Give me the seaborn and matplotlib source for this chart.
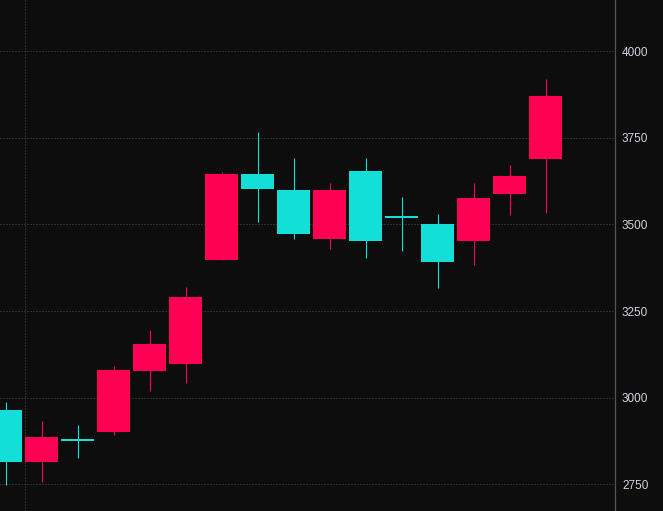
import matplotlib
matplotlib.use("Agg")
import matplotlib.pyplot as plt
import seaborn as sns
import numpy as np
import pandas as pd

# ---- data ----
opens  = [2965, 2814, 2879, 2901, 3077, 3097, 3398, 3646, 3600, 3458, 3654, 3523, 3501, 3452, 3588, 3689]
highs  = [2988, 2933, 2921, 3092, 3196, 3320, 3652, 3767, 3692, 3620, 3692, 3579, 3530, 3620, 3672, 3920]
lows   = [2748, 2757, 2826, 2892, 3019, 3042, 3398, 3507, 3458, 3429, 3403, 3424, 3317, 3383, 3527, 3533]
closes = [2814, 2886, 2877, 3080, 3155, 3291, 3646, 3602, 3473, 3600, 3452, 3521, 3392, 3577, 3640, 3871]
y_ticks = [2750, 3000, 3250, 3500, 3750, 4000]

UP = "#ff0055"
DOWN = "#12dfd8"
BG = "#0d0d0d"

sns.set_theme(style="dark")
plt.rcParams["font.family"] = ["Liberation Sans", "DejaVu Sans"]

df = pd.DataFrame({"open": opens, "high": highs, "low": lows, "close": closes})
df["idx"] = np.arange(len(df))
df["up"] = df["close"] >= df["open"]
df["color"] = np.where(df["up"], UP, DOWN)

fig = plt.figure(figsize=(6.63, 5.11), dpi=100, facecolor=BG)
ax = fig.add_axes([0, 0, 615 / 663, 1])
ax.set_facecolor(BG)

ax.set_xlim(-0.153, 16.93)
ax.set_ylim(2673, 4148)

# minimum body height (about 2 px) for doji candles
px = (4148 - 2673) / 511.0
body_bottom = np.minimum(df["open"], df["close"])
body_h = np.maximum(np.abs(df["close"] - df["open"]), 2 * px)
body_bottom = np.where(np.abs(df["close"] - df["open"]) < 2 * px,
                       (df["open"] + df["close"]) / 2 - px, body_bottom)

ax.vlines(df["idx"], df["low"], df["high"], colors=df["color"], linewidth=0.8, zorder=2)
ax.bar(df["idx"], body_h, bottom=body_bottom, width=0.917, color=df["color"],
       linewidth=0, zorder=3)

# axes styling
ax.yaxis.tick_right()
ax.set_yticks(y_ticks)
ax.set_yticklabels([str(t) for t in y_ticks])
ax.set_xticks([0.53])
ax.set_xticklabels([""])
ax.tick_params(axis="y", length=0, pad=5, labelsize=8.5, labelcolor="#d1d4dc", colors="#d1d4dc")
ax.tick_params(axis="x", length=0)
ax.grid(True, color="#4d4d4d", linestyle=(0, (1, 2)), linewidth=0.72, zorder=0)
ax.set_axisbelow(True)
for s in ["left", "top", "bottom"]:
    ax.spines[s].set_visible(False)
ax.spines["right"].set_visible(True)
ax.spines["right"].set_color("#555555")
ax.spines["right"].set_linewidth(0.9)

fig.savefig("out.png", dpi=100, facecolor=BG)
